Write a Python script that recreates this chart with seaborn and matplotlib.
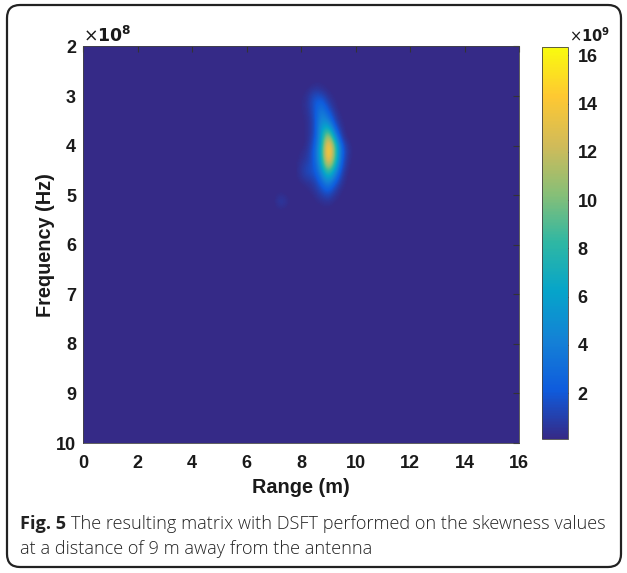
import numpy as np
import matplotlib
matplotlib.use("Agg")
import matplotlib.pyplot as plt
from matplotlib.patches import FancyBboxPatch
import seaborn as sns

# ---------------- data ----------------
# full grid of cell centres
range_m = np.arange(0, 16.0001, 0.25)          # 65 range bins (m)
freq_1e8 = np.arange(2, 10.0001, 0.125)        # 65 frequency bins (x1e8 Hz)
# non-zero patch of the DSFT matrix (x1e9), columns = patch_range, rows = patch_freq
patch_range = [7.0, 7.25, 7.5, 7.75, 8.0, 8.25, 8.5, 8.75, 9.0, 9.25, 9.5, 9.75, 10.0]
patch_freq = [2.75, 2.875, 3.0, 3.125, 3.25, 3.375, 3.5, 3.625, 3.75, 3.875, 4.0,
              4.125, 4.25, 4.375, 4.5, 4.625, 4.75, 4.875, 5.0, 5.125, 5.25, 5.375, 5.5]
patch_vals = [
    [0, 0, 0, 0, 0, 0, 0.2, 0.2, 0, 0, 0, 0, 0],
    [0, 0, 0, 0, 0, 0.2, 0.7, 0.5, 0.15, 0, 0, 0, 0],
    [0, 0, 0, 0, 0.1, 0.4, 1.5, 1.4, 0.4, 0.1, 0, 0, 0],
    [0, 0, 0, 0, 0.15, 0.5, 1.9, 2.6, 0.9, 0.2, 0, 0, 0],
    [0, 0, 0, 0, 0.15, 0.5, 1.8, 3.6, 1.6, 0.35, 0, 0, 0],
    [0, 0, 0, 0, 0.1, 0.4, 1.6, 4.4, 2.8, 0.6, 0.1, 0, 0],
    [0, 0, 0, 0, 0.1, 0.3, 1.4, 5.0, 4.3, 1.1, 0.15, 0, 0],
    [0, 0, 0, 0, 0, 0.3, 1.3, 5.6, 6.8, 2.0, 0.3, 0, 0],
    [0, 0, 0, 0, 0, 0.3, 1.3, 5.9, 10.5, 3.6, 0.5, 0, 0],
    [0, 0, 0, 0, 0, 0.3, 1.6, 6.0, 13.8, 6.2, 0.9, 0.1, 0],
    [0, 0, 0, 0, 0, 0.4, 2.0, 6.6, 15.6, 8.8, 1.9, 0.3, 0],
    [0, 0, 0, 0, 0.2, 0.6, 2.2, 7.0, 16.3, 9.4, 2.3, 0.4, 0],
    [0, 0, 0, 0, 0.3, 0.8, 2.2, 6.7, 15.6, 9.0, 2.1, 0.3, 0],
    [0, 0, 0, 0, 0.5, 1.1, 2.0, 6.0, 13.5, 7.6, 1.7, 0.2, 0],
    [0, 0, 0, 0, 0.6, 1.4, 1.8, 4.8, 10.2, 5.6, 1.2, 0.1, 0],
    [0, 0, 0, 0, 0.5, 1.1, 1.4, 3.6, 7.2, 3.7, 0.8, 0, 0],
    [0, 0, 0, 0, 0.2, 0.5, 0.9, 2.5, 4.7, 2.2, 0.5, 0, 0],
    [0, 0, 0, 0, 0, 0.2, 0.6, 1.6, 2.9, 1.1, 0.2, 0, 0],
    [0, 0.4, 0.1, 0, 0, 0, 0.3, 0.9, 1.5, 0.5, 0.1, 0, 0],
    [0, 0.9, 0.3, 0, 0, 0, 0.1, 0.4, 0.6, 0.2, 0, 0, 0],
    [0, 0.4, 0.1, 0, 0, 0, 0, 0.1, 0.2, 0, 0, 0, 0],
    [0, 0, 0, 0, 0, 0, 0, 0, 0, 0, 0, 0, 0],
    [0, 0, 0, 0, 0, 0, 0, 0, 0, 0, 0, 0, 0],
]
x_ticks = [0, 2, 4, 6, 8, 10, 12, 14, 16]
y_ticks = [2, 3, 4, 5, 6, 7, 8, 9, 10]
cbar_ticks = [2, 4, 6, 8, 10, 12, 14, 16]
cbar_min, cbar_max = 0.1, 16.35
caption_bold = "Fig. 5"
caption_line1 = "The resulting matrix with DSFT performed on the skewness values"
caption_line2 = "at a distance of 9 m away from the antenna"

# ---------------- build matrix ----------------
Z = np.zeros((len(freq_1e8), len(range_m)))
r0 = int(round((patch_freq[0] - freq_1e8[0]) / 0.125))
c0 = int(round((patch_range[0] - range_m[0]) / 0.25))
P = np.array(patch_vals)
Z[r0:r0 + P.shape[0], c0:c0 + P.shape[1]] = P

# ---------------- style ----------------
sns.set_style("white")
plt.rcParams['font.family'] = ['Liberation Sans', 'DejaVu Sans']
parula = sns.blend_palette(["#352A87", "#0F5CDD", "#1481D6", "#06A4CA", "#2EB7A4",
                            "#87BF77", "#D1BB59", "#FEC832", "#F9FB0E"], as_cmap=True)
txt = "#1a1a1a"
TICK_FS = 13

W, H = 627, 573
fig = plt.figure(figsize=(W / 100, H / 100), dpi=100)

# rounded frame
bg = fig.add_axes([0, 0, 1, 1], zorder=-5)
bg.set_xlim(0, W); bg.set_ylim(0, H); bg.axis("off")
bg.add_patch(FancyBboxPatch((7, 6), 614, 562, boxstyle="round,pad=0,rounding_size=13",
                            fc="white", ec="#222222", lw=1.6))

ax = fig.add_axes([83 / W, 1 - 443 / H, (519 - 83) / W, (443 - 46.5) / H])
dr = 0.125; df = 0.0625
im = ax.imshow(Z, extent=[range_m[0] - dr, range_m[-1] + dr, freq_1e8[-1] + df, freq_1e8[0] - df],
               origin="upper", aspect="auto", interpolation="bicubic", cmap=parula,
               vmin=cbar_min, vmax=cbar_max)
ax.set_xlim(0, 16)
ax.set_ylim(10, 2)
ax.set_xticks(x_ticks)
ax.set_yticks(y_ticks)
ax.tick_params(direction="in", top=True, right=True, length=4, width=0.8,
               labelsize=TICK_FS, colors="#333333", labelcolor=txt)
ax.tick_params(axis="x", pad=9)
ax.tick_params(axis="y", pad=5)
for lab in ax.get_xticklabels() + ax.get_yticklabels():
    lab.set_fontweight("bold")
for s in ax.spines.values():
    s.set_linewidth(0.6); s.set_color("#444444")
ax.set_xlabel("Range (m)", fontsize=14.3, fontweight="bold", color=txt, labelpad=4)
ax.set_ylabel("Frequency (Hz)", fontsize=14.3, fontweight="bold", color=txt, labelpad=1)
ax.text(0.0, 1.005, r"$\times$" + r"$\mathbf{10^{8}}$", transform=ax.transAxes,
        fontsize=12.5, ha="left", va="bottom", color=txt)

cax = fig.add_axes([542 / W, 1 - 439 / H, 26 / W, (439 - 47) / H])
cb = fig.colorbar(im, cax=cax)
cb.set_ticks(cbar_ticks)
cax.tick_params(direction="in", length=3, width=0.8, labelsize=TICK_FS, colors="#333333",
                labelcolor=txt, pad=7)
for lab in cax.get_yticklabels():
    lab.set_fontweight("bold")
cb.outline.set_linewidth(0.6); cb.outline.set_edgecolor("#444444")
cax.text(1.05, 1.005, r"$\times$" + r"$\mathbf{10^{9}}$", transform=cax.transAxes,
         fontsize=10.5, ha="left", va="bottom", color=txt)

# caption
cap_font = ["Open Sans", "DejaVu Sans"]
CAP_FS = 13.1
t1 = fig.text(20 / W, 1 - 529 / H, caption_bold, fontsize=CAP_FS, fontweight="bold",
              family=cap_font, color="#222222", va="baseline")
fig.canvas.draw()
bb = t1.get_window_extent()
fig.text((bb.x1 + 5) / W, 1 - 529 / H, caption_line1, fontsize=CAP_FS, family=cap_font,
         color="#222222", va="baseline", fontweight="light")
fig.text(20 / W, 1 - 554 / H, caption_line2, fontsize=CAP_FS, family=cap_font,
         color="#222222", va="baseline", fontweight="light")

fig.savefig("out.png", dpi=100)
